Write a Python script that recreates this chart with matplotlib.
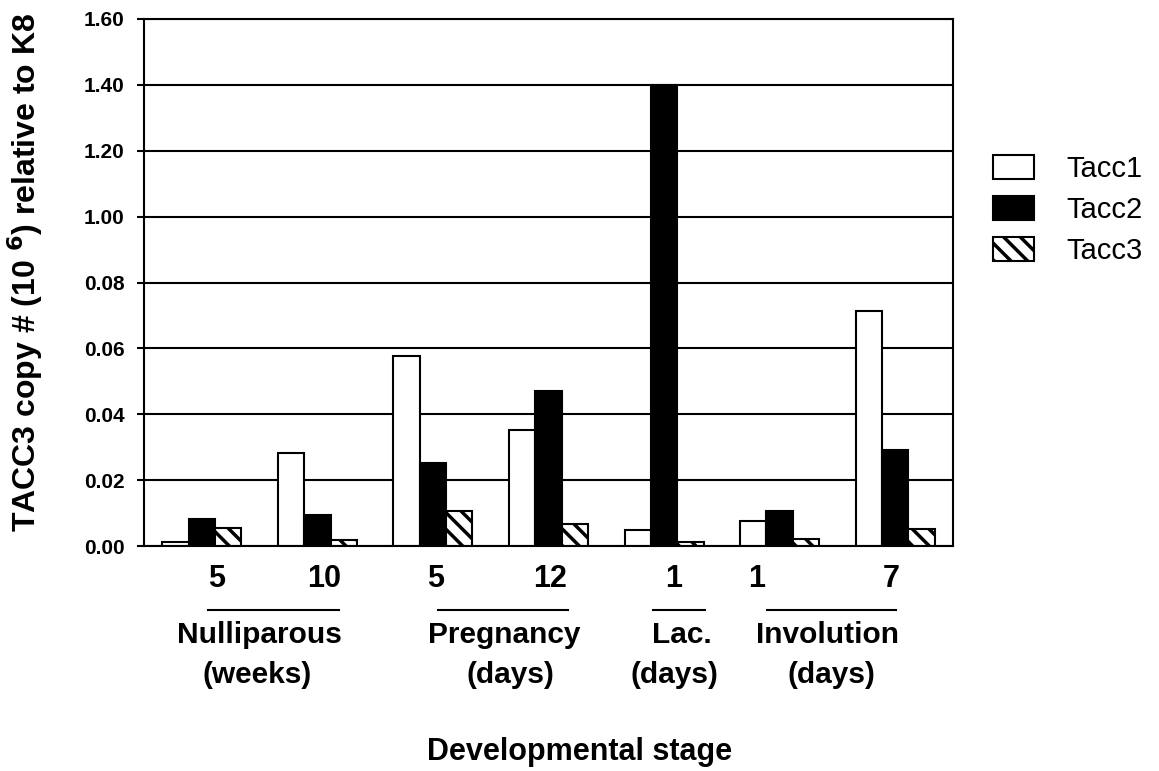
import numpy as np
import matplotlib
matplotlib.use('Agg')
import matplotlib.pyplot as plt
import matplotlib.transforms as mtransforms

plt.rcParams['font.family'] = ['Liberation Sans', 'DejaVu Sans']
plt.rcParams['hatch.linewidth'] = 2.5

# data
stage_numbers = ['5', '10', '5', '12', '1', '1', '7']
tacc1 = [0.0012, 0.0282, 0.0577, 0.0352, 0.0049, 0.0076, 0.0713]
tacc2 = [0.0082, 0.0094, 0.0252, 0.0470, 1.40, 0.0106, 0.0291]
tacc3 = [0.0055, 0.0018, 0.0106, 0.0067, 0.0012, 0.0021, 0.0052]
series_names = ['Tacc1', 'Tacc2', 'Tacc3']
y_ticks = [0.00, 0.02, 0.04, 0.06, 0.08, 1.00, 1.20, 1.40, 1.60]
groups = ['Nulliparous', 'Pregnancy', 'Lac.', 'Involution']
group_units = ['(weeks)', '(days)', '(days)', '(days)']


# broken axis: 0-0.08 in steps of 0.02, then 0.08 -> 1.00, then steps of 0.2
def fwd(v):
    v = np.asarray(v, dtype=float)
    return np.where(v <= 0.08, v / 0.02,
                    np.where(v <= 1.0, 4 + (v - 0.08) / 0.92, 5 + (v - 1.0) / 0.2))


def inv(p):
    p = np.asarray(p, dtype=float)
    return np.where(p <= 4, p * 0.02,
                    np.where(p <= 5, 0.08 + (p - 4) * 0.92, 1.0 + (p - 5) * 0.2))


fig = plt.figure(figsize=(11.59, 7.71), dpi=100)
ax = fig.add_axes([144 / 1159, 1 - 546 / 771, (953 - 144) / 1159, (546 - 19) / 771])
ax.set_yscale('function', functions=(fwd, inv))

x = np.arange(len(stage_numbers))
w = 0.228
b1 = ax.bar(x - w, tacc1, w, color='white', edgecolor='black', lw=1.5)
b2 = ax.bar(x, tacc2, w, color='black', edgecolor='black', lw=1.5)
b3 = ax.bar(x + w, tacc3, w, color='white', edgecolor='black', lw=1.5, hatch='\\\\')

ax.set_xlim(-0.5, len(x) - 0.5)
ax.set_ylim(0, 1.6)
ax.set_yticks(y_ticks)
ax.set_yticklabels([f'{t:.2f}' for t in y_ticks], fontsize=15, fontweight='bold')
ax.yaxis.grid(True, color='black', lw=1.5)
ax.set_axisbelow(True)
ax.tick_params(axis='y', direction='out', length=5, width=1.5, pad=9)
for s in ax.spines.values():
    s.set_linewidth(1.5)

# stage numbers under each group
num_offsets = [0.13, 0.06, 0.02, 0.01, 0.08, -0.2, -0.03]
ax.set_xticks(x + np.array(num_offsets))
ax.set_xticklabels(stage_numbers, fontsize=22, fontweight='bold')
ax.tick_params(axis='x', length=0, pad=13)

# group bars and labels
trans = mtransforms.blended_transform_factory(ax.transData, ax.transAxes)
spans = [(0.054, 1.187), (2.045, 3.17), (3.90, 4.35), (4.89, 6.01)]
name_x = [0.50, 2.62, 4.15, 5.41]
unit_x = [0.48, 2.67, 4.09, 5.45]
for (a, b), g, u, nx, ux in zip(spans, groups, group_units, name_x, unit_x):
    ax.plot([a, b], [-0.121, -0.121], color='black', lw=1.5, transform=trans, clip_on=False)
    ax.text(nx, -0.169, g, transform=trans, ha='center', va='center',
            fontsize=21.5, fontweight='bold')
    ax.text(ux, -0.245, u, transform=trans, ha='center', va='center',
            fontsize=21.5, fontweight='bold')

fig.text(580 / 1159, 1 - 752 / 771, 'Developmental stage', ha='center', va='center',
         fontsize=22, fontweight='bold')
fig.text(25 / 1159, 1 - 272 / 771, r'TACC3 copy # (10 $^{\mathbf{6}}$) relative to K8',
         rotation=90, ha='center', va='center', fontsize=23, fontweight='bold')

fig.legend([b1, b2, b3], series_names, loc='upper left',
           bbox_to_anchor=(967 / 1159, 1 - 129 / 771), frameon=False,
           fontsize=21, handlelength=1.4, handleheight=0.9,
           handletextpad=1.1, labelspacing=0.43)

fig.savefig('out.png', dpi=100)
